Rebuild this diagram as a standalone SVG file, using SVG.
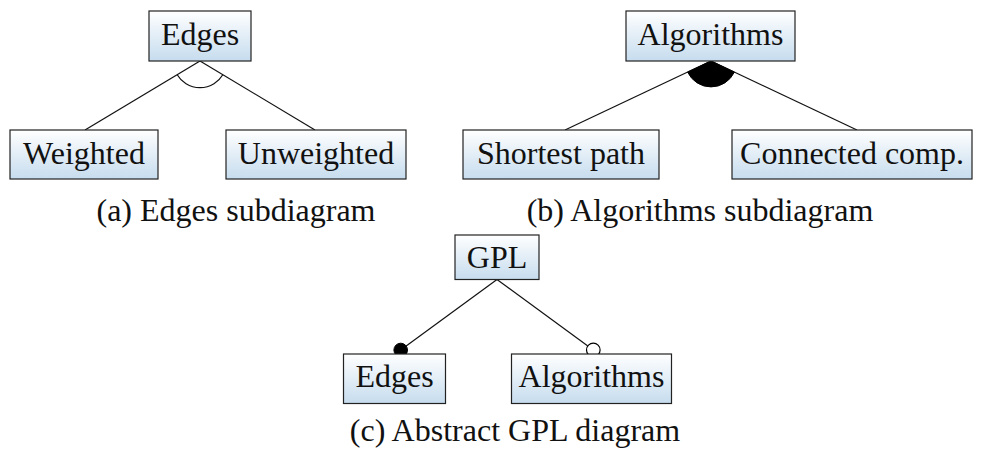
<svg xmlns="http://www.w3.org/2000/svg" width="984" height="453" viewBox="0 0 984 453">
  <defs>
    <linearGradient id="boxFill" x1="0" y1="0" x2="0" y2="1">
      <stop offset="0" stop-color="#ffffff"/>
      <stop offset="1" stop-color="#c6dcee"/>
    </linearGradient>
    <style>
      .box { fill: url(#boxFill); stroke: #222; stroke-width: 1.2; }
      .lbl { font-family: "Liberation Serif", "DejaVu Serif", serif; font-size: 32px; fill: #111; text-anchor: middle; }
      .cap { font-family: "Liberation Serif", "DejaVu Serif", serif; font-size: 32px; fill: #111; text-anchor: middle; }
      .edge { stroke: #111; stroke-width: 1.2; fill: none; }
    </style>
  </defs>
  <rect width="984" height="453" fill="#ffffff"/>

  <!-- connectors -->
  <g id="connectors">
    <!-- (a) alternative group -->
    <line class="edge" x1="200" y1="61" x2="85" y2="130"/>
    <line class="edge" x1="200" y1="61" x2="315" y2="130"/>
    <path class="edge" d="M 177.2 74.7 A 26.5 26.5 0 0 0 222.8 74.7"/>
    <!-- (b) or group -->
    <line class="edge" x1="711" y1="61" x2="565" y2="130"/>
    <line class="edge" x1="711" y1="61" x2="857" y2="130"/>
    <path d="M 711 61 L 687.6 72.1 A 25.9 25.9 0 0 0 734.4 72.1 Z" fill="#000" stroke="#000" stroke-width="1"/>
    <!-- (c) mandatory / optional -->
    <line class="edge" x1="497" y1="279.5" x2="400.7" y2="350"/>
    <line class="edge" x1="497" y1="279.5" x2="593.3" y2="350"/>
    <circle cx="400.7" cy="350" r="6.8" fill="#000" stroke="#000" stroke-width="1"/>
    <circle cx="593.3" cy="350" r="6.8" fill="#fff" stroke="#000" stroke-width="1.2"/>
  </g>

  <!-- (a) Edges subdiagram -->
  <g id="a-edges">
    <rect class="box" x="149" y="11" width="102" height="50"/>
    <text class="lbl" x="200" y="44.5">Edges</text>
  </g>
  <g id="a-weighted">
    <rect class="box" x="10" y="130" width="148" height="49"/>
    <text class="lbl" x="84" y="163.5">Weighted</text>
  </g>
  <g id="a-unweighted">
    <rect class="box" x="226" y="130" width="180" height="49"/>
    <text class="lbl" x="316" y="163.5">Unweighted</text>
  </g>
  <text class="cap" x="236" y="220.5">(a) Edges subdiagram</text>

  <!-- (b) Algorithms subdiagram -->
  <g id="b-algorithms">
    <rect class="box" x="626" y="11" width="169" height="50"/>
    <text class="lbl" x="710.5" y="44.5">Algorithms</text>
  </g>
  <g id="b-shortest">
    <rect class="box" x="463" y="130" width="196" height="49"/>
    <text class="lbl" x="561" y="163.5">Shortest path</text>
  </g>
  <g id="b-connected">
    <rect class="box" x="732" y="130" width="240" height="49"/>
    <text class="lbl" x="852" y="163.5">Connected comp.</text>
  </g>
  <text class="cap" x="700" y="220.5">(b) Algorithms subdiagram</text>

  <!-- (c) Abstract GPL diagram -->
  <g id="c-gpl">
    <rect class="box" x="455" y="235" width="84" height="44.5"/>
    <text class="lbl" x="497" y="267.5">GPL</text>
  </g>
  <g id="c-edges">
    <rect class="box" x="343.5" y="354" width="102" height="49.5"/>
    <text class="lbl" x="394.5" y="387">Edges</text>
  </g>
  <g id="c-algorithms">
    <rect class="box" x="511.5" y="354" width="160" height="49.5"/>
    <text class="lbl" x="591.5" y="387">Algorithms</text>
  </g>
  <text class="cap" x="515" y="441">(c) Abstract GPL diagram</text>
</svg>
